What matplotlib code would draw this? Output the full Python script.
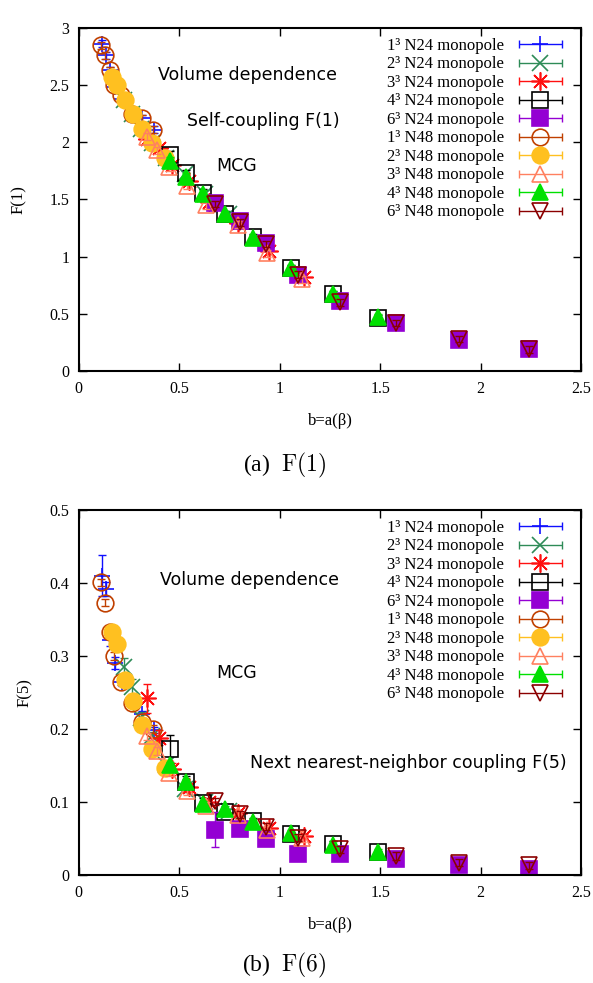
import numpy as np
import matplotlib
matplotlib.use('Agg')
import matplotlib.pyplot as plt
from matplotlib.ticker import FormatStrFormatter
from matplotlib.container import ErrorbarContainer
from matplotlib.legend_handler import HandlerErrorbar

plt.rcParams['font.family'] = ['Liberation Serif', 'DejaVu Serif']
plt.rcParams['mathtext.fontset'] = 'cm'

# series labels and styles (gnuplot-like)
labels = ['1³ N24 monopole', '2³ N24 monopole', '3³ N24 monopole',
          '4³ N24 monopole', '6³ N24 monopole', '1³ N48 monopole',
          '2³ N48 monopole', '3³ N48 monopole', '4³ N48 monopole',
          '6³ N48 monopole']
colors = ['#1010ff', '#2e8b57', '#ff1010', '#000000', '#9400d3',
          '#c04000', '#ffc020', '#ff8060', '#00e000', '#8b0000']
markers = ['+', 'x', (8, 2, 0), 's', 's', 'o', 'o', '^', '^', 'v']
filled = [True, True, True, False, True, False, True, False, True, False]
msizes = [12, 11, 13, 12, 11, 12, 12, 11, 11, 11]

# b = a(beta) values for each series
b_1_24 = [0.113, 0.133, 0.155, 0.182, 0.217, 0.263, 0.315, 0.373]
b_2_24 = [0.226, 0.266, 0.310, 0.364, 0.434, 0.526, 0.630, 0.746]
b_3_24 = [0.340, 0.400, 0.465, 0.546, 0.650, 0.790, 0.945, 1.120]
b_4_24 = [0.453, 0.533, 0.620, 0.727, 0.865, 1.054, 1.263, 1.490]
b_6_24 = [0.677, 0.800, 0.930, 1.090, 1.300, 1.580, 1.890, 2.240]
b_1_48 = [0.110, 0.132, 0.156, 0.177, 0.210, 0.262, 0.312, 0.370]
b_2_48 = [0.163, 0.188, 0.229, 0.267, 0.312, 0.362, 0.428]
b_3_48 = [0.340, 0.390, 0.450, 0.540, 0.635, 0.790, 0.935, 1.110]
b_4_48 = [0.453, 0.533, 0.620, 0.727, 0.865, 1.054, 1.263, 1.490]
b_6_48 = [0.677, 0.800, 0.930, 1.090, 1.300, 1.580, 1.890, 2.240]

# F(1) self-coupling
f1_1_24 = [2.86, 2.76, 2.63, 2.48, 2.38, 2.24, 2.21, 2.11]
f1_2_24 = [2.37, 2.25, 2.12, 1.99, 1.86, 1.72, 1.55, 1.37]
f1_3_24 = [2.03, 1.95, 1.80, 1.66, 1.48, 1.29, 1.05, 0.82]
f1_4_24 = [1.89, 1.73, 1.56, 1.37, 1.17, 0.90, 0.67, 0.46]
f1_6_24 = [1.47, 1.31, 1.12, 0.84, 0.61, 0.42, 0.27, 0.19]
f1_1_48 = [2.85, 2.76, 2.63, 2.50, 2.41, 2.25, 2.21, 2.11]
f1_2_48 = [2.575, 2.50, 2.37, 2.25, 2.12, 1.99, 1.86]
f1_3_48 = [2.05, 1.93, 1.78, 1.62, 1.45, 1.28, 1.03, 0.80]
f1_4_48 = [1.84, 1.70, 1.55, 1.37, 1.16, 0.90, 0.67, 0.47]
f1_6_48 = [1.46, 1.30, 1.11, 0.84, 0.60, 0.42, 0.28, 0.19]

# F(5) next nearest-neighbor coupling
f5_1_24 = [0.410, 0.392, 0.322, 0.290, 0.265, 0.238, 0.220, 0.199]
f5_2_24 = [0.285, 0.258, 0.215, 0.190, 0.150, 0.118, 0.100, 0.088]
f5_3_24 = [0.242, 0.188, 0.145, 0.120, 0.100, 0.085, 0.065, 0.053]
f5_4_24 = [0.172, 0.128, 0.099, 0.086, 0.074, 0.056, 0.043, 0.031]
f5_6_24 = [0.062, 0.063, 0.049, 0.029, 0.029, 0.022, 0.013, 0.008]
f5_1_48 = [0.401, 0.373, 0.333, 0.300, 0.265, 0.235, 0.210, 0.200]
f5_2_48 = [0.333, 0.317, 0.267, 0.238, 0.205, 0.172, 0.147]
f5_3_48 = [0.190, 0.170, 0.140, 0.115, 0.095, 0.082, 0.062, 0.050]
f5_4_48 = [0.150, 0.127, 0.097, 0.090, 0.072, 0.057, 0.041, 0.031]
f5_6_48 = [0.101, 0.083, 0.066, 0.051, 0.035, 0.026, 0.017, 0.013]

# error bars on F(5)
e5_1_24 = [0.028, 0.010, 0.008, 0.008, 0.006, 0.005, 0.005, 0.004]
e5_2_24 = [0.012, 0.010, 0.008, 0.006, 0.005, 0.004, 0.004, 0.003]
e5_3_24 = [0.020, 0.010, 0.008, 0.006, 0.005, 0.004, 0.003, 0.003]
e5_4_24 = [0.020, 0.008, 0.006, 0.005, 0.004, 0.003, 0.003, 0.002]
e5_6_24 = [0.024, 0.006, 0.005, 0.004, 0.003, 0.002, 0.002, 0.002]

b_all = [b_1_24, b_2_24, b_3_24, b_4_24, b_6_24, b_1_48, b_2_48, b_3_48, b_4_48, b_6_48]
f1_all = [f1_1_24, f1_2_24, f1_3_24, f1_4_24, f1_6_24, f1_1_48, f1_2_48, f1_3_48, f1_4_48, f1_6_48]
f5_all = [f5_1_24, f5_2_24, f5_3_24, f5_4_24, f5_6_24, f5_1_48, f5_2_48, f5_3_48, f5_4_48, f5_6_48]
e5_all = [e5_1_24, e5_2_24, e5_3_24, e5_4_24, e5_6_24, None, None, None, None, None]

fig = plt.figure(figsize=(5.93, 9.83), dpi=100)
ax1 = fig.add_axes([0.133, 0.6226, 0.847, 0.349])
ax2 = fig.add_axes([0.133, 0.1099, 0.847, 0.3713])


def draw(ax, ys, errs, ymax, ystep):
    bars = []
    marks = []
    for i in range(len(labels)):
        mfc = colors[i] if filled[i] else 'none'
        err = errs[i] if errs is not None and errs[i] is not None else [0.01 * ymax] * len(ys[i])
        ax.errorbar(b_all[i], ys[i], yerr=err, fmt='none', ecolor=colors[i],
                    elinewidth=1, capsize=3)
        ax.plot(b_all[i], ys[i], linestyle='none', marker=markers[i], ms=msizes[i],
                mec=colors[i], mfc=mfc, mew=1.2)
        # legend handle: marker with horizontal error bar (gnuplot key style)
        bars.append(ax.errorbar([np.nan], [np.nan], xerr=[1], fmt='none', ecolor=colors[i],
                                elinewidth=1, capsize=3))
        marks.append(ax.plot([np.nan], [np.nan], linestyle='none', marker=markers[i],
                             ms=msizes[i], mec=colors[i], mfc=mfc, mew=1.2)[0])
    ax.set_xlim(0, 2.5)
    ax.set_ylim(0, ymax)
    ax.set_xticks(np.arange(0, 2.51, 0.5))
    ax.set_yticks(np.arange(0, ymax + 1e-9, ystep))
    ax.xaxis.set_major_formatter(FormatStrFormatter('%g'))
    ax.yaxis.set_major_formatter(FormatStrFormatter('%g'))
    ax.tick_params(direction='in', top=True, right=True, length=6, width=1,
                   labelsize=11.5, pad=7)
    for s in ax.spines.values():
        s.set_linewidth(1.5)
    ax.set_xlabel('b=a(β)', fontsize=12, labelpad=12)
    ax.legend(list(zip(bars, marks)), labels, loc='upper right',
              bbox_to_anchor=(0.995, 1.0), frameon=False, markerfirst=False,
              fontsize=12, handlelength=3.4, handleheight=0.7,
              labelspacing=0.15, handletextpad=0.5, borderaxespad=0.2,
              handler_map={ErrorbarContainer: HandlerErrorbar(xerr_size=1.3)})


draw(ax1, f1_all, None, 3.0, 0.5)
draw(ax2, f5_all, e5_all, 0.5, 0.1)

ax1.set_ylabel('F(1)', fontsize=12, labelpad=16)
ax2.set_ylabel('F(5)', fontsize=12, labelpad=12)

sans = ['DejaVu Sans']
ax1.text(0.84, 2.59, 'Volume dependence', family=sans, fontsize=12.5, ha='center', va='center')
ax1.text(0.92, 2.19, 'Self-coupling F(1)', family=sans, fontsize=12.5, ha='center', va='center')
ax1.text(0.785, 1.79, 'MCG', family=sans, fontsize=12.5, ha='center', va='center')
ax2.text(0.85, 0.404, 'Volume dependence', family=sans, fontsize=12.5, ha='center', va='center')
ax2.text(0.785, 0.276, 'MCG', family=sans, fontsize=12.5, ha='center', va='center')
ax2.text(1.64, 0.153, 'Next nearest-neighbor coupling F(5)', family=sans, fontsize=12.5,
         ha='center', va='center')

fig.text(0.48, 1 - 465 / 983, '(a)  $\\mathrm{F}(1)$', fontsize=17, ha='center', va='center')
fig.text(0.48, 1 - 965 / 983, '(b)  $\\mathrm{F}(6)$', fontsize=17, ha='center', va='center')

fig.savefig('out.png', dpi=100)
